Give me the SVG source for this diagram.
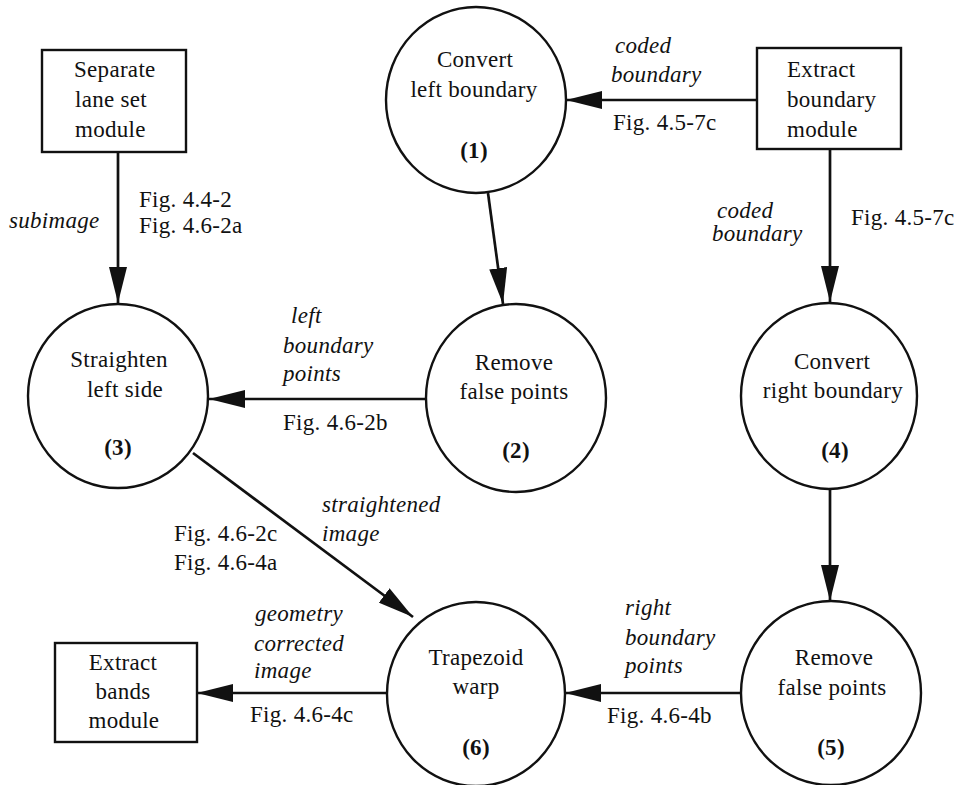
<svg xmlns="http://www.w3.org/2000/svg" width="959" height="785" viewBox="0 0 959 785">
  <style>
    .shape { fill: #fff; stroke: #111; stroke-width: 2.4; }
    .t { font-family: "Liberation Serif", "Times New Roman", serif; font-size: 23px; fill: #111; letter-spacing: 0.3px; }
    .c { text-anchor: middle; }
    .i { font-style: italic; }
    .b { font-weight: bold; }
    .flow { fill: none; stroke: #111; stroke-width: 2.7; marker-end: url(#ah); }
  </style>
  <defs>
    <marker id="ah" viewBox="0 0 36 18" refX="36" refY="9" markerWidth="36" markerHeight="18" markerUnits="userSpaceOnUse" orient="auto">
      <path d="M0,0 L36,9 L0,18 Z" fill="#111"/>
    </marker>
  </defs>
  <rect width="959" height="785" fill="#fff"/>

  <!-- connectors -->
  <g id="connectors">
    <line class="flow" x1="118" y1="152" x2="118" y2="303"/>
    <line class="flow" x1="757" y1="100" x2="566" y2="100"/>
    <line class="flow" x1="488" y1="193" x2="503" y2="304"/>
    <line class="flow" x1="427" y1="399" x2="209" y2="399"/>
    <line class="flow" x1="830" y1="149" x2="830" y2="302"/>
    <line class="flow" x1="830" y1="489" x2="830" y2="601"/>
    <line class="flow" x1="193" y1="453" x2="413" y2="617"/>
    <line class="flow" x1="741" y1="693" x2="565" y2="693"/>
    <line class="flow" x1="387" y1="693" x2="197" y2="693"/>

    <!-- flow labels -->
    <text class="t i" x="9" y="228">subimage</text>
    <text class="t" x="139" y="207">Fig. 4.4-2</text>
    <text class="t" x="139" y="233">Fig. 4.6-2a</text>

    <text class="t i" x="615" y="53">coded</text>
    <text class="t i" x="611" y="82">boundary</text>
    <text class="t" x="613" y="130">Fig. 4.5-7c</text>

    <text class="t i" x="717" y="218">coded</text>
    <text class="t i" x="712" y="241">boundary</text>
    <text class="t" x="851" y="225">Fig. 4.5-7c</text>

    <text class="t i" x="291" y="323">left</text>
    <text class="t i" x="283" y="353">boundary</text>
    <text class="t i" x="283" y="381">points</text>
    <text class="t" x="283" y="430">Fig. 4.6-2b</text>

    <text class="t i" x="322" y="512">straightened</text>
    <text class="t i" x="322" y="541">image</text>
    <text class="t" x="174" y="541">Fig. 4.6-2c</text>
    <text class="t" x="174" y="570">Fig. 4.6-4a</text>

    <text class="t i" x="625" y="615">right</text>
    <text class="t i" x="625" y="645">boundary</text>
    <text class="t i" x="625" y="673">points</text>
    <text class="t" x="607" y="723">Fig. 4.6-4b</text>

    <text class="t i" x="255" y="621">geometry</text>
    <text class="t i" x="254" y="651">corrected</text>
    <text class="t i" x="254" y="678">image</text>
    <text class="t" x="250" y="722">Fig. 4.6-4c</text>
  </g>

  <!-- external modules -->
  <g id="separate-lane-set">
    <rect class="shape" x="42" y="50" width="144" height="102"/>
    <text class="t" x="74" y="77">Separate</text>
    <text class="t" x="75" y="107">lane set</text>
    <text class="t" x="75" y="137">module</text>
  </g>

  <g id="extract-boundary">
    <rect class="shape" x="757" y="48" width="144" height="101"/>
    <text class="t" x="787" y="77">Extract</text>
    <text class="t" x="787" y="107">boundary</text>
    <text class="t" x="787" y="137">module</text>
  </g>

  <g id="extract-bands">
    <rect class="shape" x="55" y="643" width="142" height="99"/>
    <text class="t c" x="123" y="670">Extract</text>
    <text class="t c" x="123" y="699">bands</text>
    <text class="t c" x="124" y="728">module</text>
  </g>

  <!-- processes -->
  <g id="p1">
    <ellipse class="shape" cx="476" cy="100" rx="90" ry="93"/>
    <text class="t c" x="475" y="67">Convert</text>
    <text class="t c" x="474" y="97">left boundary</text>
    <text class="t c b" x="474" y="158">(1)</text>
  </g>

  <g id="p2">
    <ellipse class="shape" cx="516" cy="398" rx="90" ry="94"/>
    <text class="t c" x="514" y="370">Remove</text>
    <text class="t c" x="514" y="399">false points</text>
    <text class="t c b" x="516" y="458">(2)</text>
  </g>

  <g id="p3">
    <ellipse class="shape" cx="118" cy="396" rx="90" ry="92"/>
    <text class="t c" x="119" y="367">Straighten</text>
    <text class="t c" x="125" y="397">left side</text>
    <text class="t c b" x="118" y="455">(3)</text>
  </g>

  <g id="p4">
    <ellipse class="shape" cx="829" cy="396" rx="88" ry="93"/>
    <text class="t c" x="832" y="369">Convert</text>
    <text class="t c" x="833" y="398">right boundary</text>
    <text class="t c b" x="835" y="458">(4)</text>
  </g>

  <g id="p5">
    <ellipse class="shape" cx="831" cy="693" rx="90" ry="92"/>
    <text class="t c" x="834" y="665">Remove</text>
    <text class="t c" x="832" y="695">false points</text>
    <text class="t c b" x="831" y="755">(5)</text>
  </g>

  <g id="p6">
    <ellipse class="shape" cx="476" cy="694" rx="89" ry="92"/>
    <text class="t c" x="476" y="665">Trapezoid</text>
    <text class="t c" x="476" y="694">warp</text>
    <text class="t c b" x="476" y="755">(6)</text>
  </g>
</svg>
